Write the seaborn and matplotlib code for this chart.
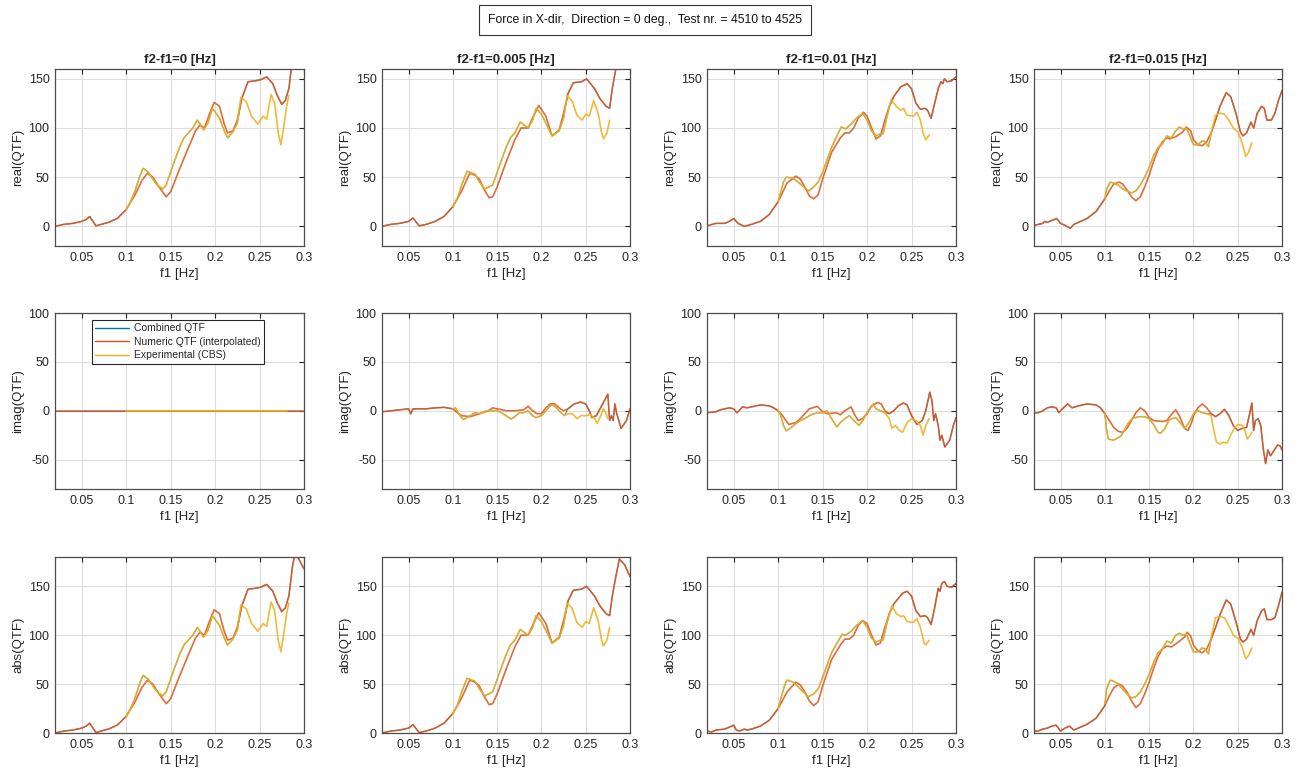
import numpy as np
import pandas as pd
import matplotlib
matplotlib.use("Agg")
import matplotlib.pyplot as plt
import seaborn as sns
from matplotlib.lines import Line2D

# panel columns: difference frequency f2-f1
diff_freqs = ["0", "0.005", "0.01", "0.015"]
xtick_vals = [0.05, 0.1, 0.15, 0.2, 0.25, 0.3]
xtick_text = ["0.05", "0.1", "0.15", "0.2", "0.25", "0.3"]

# range where the combined QTF follows the experimental curve
comb_lo = [0.1, 0.1, 0.102, 0.102]
comb_hi = [0.228, 0.226, 0.22, 0.217]

# ---------------- f2-f1 = 0 ----------------
f_num_re0 = [0.02, 0.03, 0.04, 0.05, 0.055, 0.059, 0.062, 0.066, 0.07, 0.08, 0.09, 0.1, 0.11, 0.118, 0.124,
             0.13, 0.137, 0.145, 0.15, 0.16, 0.17, 0.178, 0.183, 0.188, 0.194, 0.199, 0.205, 0.21, 0.214, 0.22,
             0.225, 0.23, 0.237, 0.245, 0.251, 0.258, 0.265, 0.27, 0.275, 0.279, 0.283, 0.287, 0.29, 0.3]
num_re0 = [0, 2, 3, 5, 7, 10, 6, 0.5, 1.5, 4, 8, 17, 32, 47, 54,
           50, 40, 30, 35, 58, 80, 97, 103, 100, 115, 126, 122, 105, 95, 97,
           108, 130, 147, 148, 149, 152, 145, 133, 124, 128, 140, 170, 185, 168]
f_exp_re0 = [0.1, 0.105, 0.11, 0.115, 0.119, 0.125, 0.13, 0.135, 0.141, 0.145, 0.15, 0.155, 0.16, 0.165,
             0.17, 0.175, 0.18, 0.184, 0.187, 0.192, 0.197, 0.205, 0.21, 0.214, 0.22, 0.225, 0.229, 0.235,
             0.241, 0.248, 0.254, 0.258, 0.263, 0.267, 0.271, 0.274, 0.277, 0.281, 0.283]
exp_re0 = [17, 25, 36, 50, 59, 55, 48, 42, 38, 42, 55, 68, 80, 90,
           95, 100, 108, 103, 98, 105, 120, 110, 98, 90, 96, 105, 131, 127,
           112, 104, 112, 109, 134, 125, 95, 83, 100, 125, 133]
f_num_im0 = [0.02, 0.1, 0.2, 0.3]
num_im0 = [0, 0, 0, 0]
f_exp_im0 = [0.1, 0.2, 0.281]
exp_im0 = [0, 0, 0]

# ---------------- f2-f1 = 0.005 ----------------
f_num_re1 = [0.02, 0.03, 0.04, 0.05, 0.055, 0.058, 0.062, 0.07, 0.08, 0.09, 0.1, 0.11, 0.119, 0.125, 0.13,
             0.135, 0.141, 0.145, 0.15, 0.16, 0.17, 0.177, 0.185, 0.19, 0.197, 0.205, 0.212, 0.22, 0.225,
             0.23, 0.236, 0.245, 0.251, 0.26, 0.266, 0.273, 0.277, 0.28, 0.284, 0.288, 0.294, 0.3]
num_re1 = [0, 2, 3, 5, 8.5, 5, 0.5, 2, 5, 10, 20, 36, 54, 52, 48,
           38, 29, 30, 40, 65, 88, 100, 100, 110, 123, 112, 92, 98, 115,
           135, 146, 147, 150, 140, 130, 122, 120, 140, 160, 178, 172, 160]
f_exp_re1 = [0.1, 0.105, 0.11, 0.116, 0.125, 0.13, 0.136, 0.145, 0.15, 0.16, 0.165, 0.17, 0.176, 0.185,
             0.19, 0.194, 0.2, 0.205, 0.212, 0.22, 0.225, 0.229, 0.235, 0.24, 0.246, 0.25, 0.254, 0.259,
             0.264, 0.268, 0.27, 0.274, 0.277]
exp_re1 = [20, 28, 42, 56, 53, 45, 38, 42, 55, 80, 90, 95, 106, 100,
           108, 120, 114, 105, 92, 97, 110, 133, 127, 113, 108, 114, 112, 128,
           115, 95, 89, 95, 108]
f_num_im1 = [0.02, 0.03, 0.04, 0.05, 0.0525, 0.055, 0.06, 0.07, 0.08, 0.09, 0.1, 0.105, 0.11, 0.12, 0.13,
             0.14, 0.145, 0.15, 0.16, 0.17, 0.18, 0.185, 0.19, 0.195, 0.2, 0.205, 0.21, 0.215, 0.22, 0.225,
             0.23, 0.237, 0.244, 0.25, 0.254, 0.257, 0.262, 0.268, 0.275, 0.277, 0.279, 0.281, 0.283, 0.285,
             0.29, 0.296, 0.3]
num_im1 = [-1, 0, 1, 2, -3, 2, 2, 2, 3, 3.5, 2, -2, -5, -6, -3,
           0, 3, 2, 0, 0, 1, 4.5, 0, -3, -3, 3, 7, 7, 3, 0,
           2, 7, 9, 7, 0, -7, -5, 5, 17, -10, -5, -10, 7, -3,
           -18, -10, 2]
f_exp_im1 = [0.1, 0.103, 0.108, 0.112, 0.118, 0.125, 0.13, 0.138, 0.145, 0.15, 0.155, 0.16, 0.166, 0.17,
             0.175, 0.18, 0.185, 0.19, 0.194, 0.2, 0.205, 0.21, 0.213, 0.218, 0.222, 0.226, 0.23, 0.235,
             0.24, 0.245, 0.25, 0.255, 0.26, 0.263, 0.267, 0.27, 0.273, 0.275]
exp_im1 = [2, 3, -5, -9, -6, -2, -3, 0, 0, 0, -2, -5, -8.5, -6,
           -2, -2, 0, -5, -7, -5, 0, 5, 6, 2, -2, -5, -3, -3,
           -8, -5, -5, -4, -8, -13, -5, 2, -3, -8]

# ---------------- f2-f1 = 0.01 ----------------
f_num_re2 = [0.02, 0.03, 0.035, 0.04, 0.045, 0.05, 0.055, 0.062, 0.07, 0.08, 0.09, 0.1, 0.11, 0.12, 0.125,
             0.13, 0.135, 0.14, 0.145, 0.15, 0.16, 0.17, 0.175, 0.18, 0.185, 0.19, 0.196, 0.2, 0.205, 0.21,
             0.215, 0.22, 0.225, 0.23, 0.238, 0.245, 0.25, 0.255, 0.26, 0.265, 0.268, 0.272, 0.276, 0.28,
             0.283, 0.285, 0.287, 0.29, 0.295, 0.3]
num_re2 = [0.5, 3, 3, 3, 5, 8, 3, 0, 2, 5, 12, 25, 44, 51, 48,
           40, 31, 28, 32, 48, 75, 90, 95, 95, 100, 110, 116, 112, 100, 89,
           92, 108, 122, 132, 142, 145, 140, 125, 119, 120, 118, 110, 125, 140,
           147, 145, 150, 147, 148, 152]
f_exp_re2 = [0.1, 0.103, 0.106, 0.109, 0.117, 0.125, 0.134, 0.14, 0.145, 0.15, 0.16, 0.165, 0.171, 0.176,
             0.182, 0.188, 0.195, 0.2, 0.205, 0.21, 0.215, 0.218, 0.222, 0.227, 0.233, 0.238, 0.241, 0.245,
             0.252, 0.256, 0.26, 0.263, 0.266, 0.27]
exp_re2 = [25, 35, 45, 50, 49, 43, 36, 40, 45, 55, 80, 90, 101, 99,
           104, 110, 115, 108, 97, 92, 94, 94, 110, 129, 122, 118, 120, 113,
           112, 116, 108, 95, 88, 93]
f_num_im2 = [0.02, 0.03, 0.035, 0.04, 0.045, 0.05, 0.0535, 0.057, 0.06, 0.065, 0.07, 0.08, 0.09, 0.095, 0.1,
             0.105, 0.112, 0.12, 0.125, 0.13, 0.135, 0.144, 0.15, 0.155, 0.165, 0.17, 0.175, 0.182, 0.186,
             0.19, 0.195, 0.2, 0.205, 0.212, 0.216, 0.22, 0.225, 0.23, 0.235, 0.241, 0.245, 0.25, 0.256,
             0.262, 0.266, 0.2705, 0.273, 0.275, 0.277, 0.28, 0.282, 0.284, 0.2875, 0.293, 0.297, 0.3]
num_im2 = [-2, -1, 1, 2, 3, 2, -2, 1, 4, 3, 4, 6, 5, 3, 0,
           -5, -14, -12, -8, -3, 2, 4.5, -1, -3, -2, -4, 0, 4, -4,
           -10, -8, -3, 5, 8.5, 7, 0, -3, 0, 5, 8, 6, -5, -14,
           -10, 0, 19, 10, -10, -3, -15, -30, -25, -37, -30, -15, -7]
f_exp_im2 = [0.1, 0.103, 0.106, 0.109, 0.115, 0.12, 0.125, 0.13, 0.135, 0.14, 0.145, 0.15, 0.155, 0.16,
             0.166, 0.17, 0.175, 0.18, 0.185, 0.191, 0.195, 0.2, 0.207, 0.21, 0.215, 0.22, 0.225, 0.228,
             0.232, 0.236, 0.24, 0.245, 0.25, 0.255, 0.26, 0.263, 0.266, 0.27]
exp_im2 = [0, -5, -15, -20.5, -17, -13, -10, -8, -5, -3, -2, -2, 0, -8,
           -16.5, -12, -8, -5, -10, -15, -10, -2, 7, 2, 0, -2, -8, -18,
           -15, -20, -22, -12, -8, -10, -15, -25, -15, -8]
f_num_ab2 = [0.02, 0.025, 0.03, 0.04, 0.045, 0.05, 0.053, 0.057, 0.062, 0.065, 0.07, 0.08, 0.09, 0.1, 0.11,
             0.12, 0.125, 0.13, 0.135, 0.14, 0.145, 0.15, 0.16, 0.17, 0.175, 0.18, 0.185, 0.19, 0.195, 0.2,
             0.205, 0.21, 0.215, 0.22, 0.225, 0.23, 0.24, 0.245, 0.25, 0.255, 0.26, 0.265, 0.268, 0.272,
             0.276, 0.28, 0.282, 0.284, 0.287, 0.29, 0.295, 0.3]
num_ab2 = [2, 1, 3, 4, 6, 8, 3, 2, 4, 3, 4, 7, 13, 25, 42,
           52, 49, 42, 33, 28, 32, 48, 75, 90, 96, 96, 100, 110, 115, 112,
           100, 90, 92, 108, 122, 132, 143, 145, 140, 125, 119, 120, 118, 111,
           128, 148, 145, 153, 155, 150, 149, 153]
f_exp_ab2 = [0.1, 0.103, 0.107, 0.11, 0.117, 0.125, 0.134, 0.14, 0.145, 0.15, 0.16, 0.165, 0.172, 0.176,
             0.182, 0.188, 0.195, 0.2, 0.205, 0.21, 0.215, 0.218, 0.222, 0.228, 0.233, 0.238, 0.241, 0.245,
             0.252, 0.256, 0.26, 0.264, 0.266, 0.27]
exp_ab2 = [25, 35, 48, 54, 52, 45, 37, 40, 45, 57, 82, 90, 101, 100,
           104, 110, 115, 108, 97, 93, 95, 95, 112, 130, 122, 119, 120, 114,
           113, 117, 108, 92, 90, 95]

# ---------------- f2-f1 = 0.015 ----------------
f_num_re3 = [0.02, 0.03, 0.032, 0.035, 0.04, 0.0455, 0.05, 0.055, 0.061, 0.065, 0.07, 0.08, 0.09, 0.1, 0.105,
             0.11, 0.116, 0.12, 0.125, 0.13, 0.135, 0.14, 0.145, 0.15, 0.155, 0.16, 0.165, 0.17, 0.173, 0.18,
             0.188, 0.192, 0.197, 0.2, 0.205, 0.21, 0.215, 0.22, 0.225, 0.23, 0.237, 0.242, 0.248, 0.253,
             0.256, 0.26, 0.265, 0.268, 0.272, 0.277, 0.28, 0.283, 0.288, 0.292, 0.296, 0.3]
num_re3 = [1, 3, 5, 4, 6, 8, 3, 1, -2, 2, 4, 8, 15, 28, 36,
           43, 45, 43, 37, 30, 26, 30, 40, 52, 66, 78, 86, 90, 89, 91,
           96, 101, 97, 88, 83, 82, 86, 95, 108, 122, 136, 132, 115, 96,
           92, 95, 106, 100, 115, 122, 120, 108, 108, 115, 128, 138]
f_exp_re3 = [0.1, 0.102, 0.106, 0.11, 0.115, 0.12, 0.125, 0.13, 0.135, 0.14, 0.145, 0.15, 0.155, 0.16,
             0.165, 0.17, 0.175, 0.18, 0.184, 0.188, 0.192, 0.196, 0.2, 0.205, 0.21, 0.213, 0.217, 0.22,
             0.225, 0.23, 0.235, 0.24, 0.245, 0.25, 0.255, 0.259, 0.262, 0.266]
exp_re3 = [28, 38, 45, 44, 42, 38, 36, 34, 36, 42, 50, 60, 72, 80,
           84, 92, 90, 97, 101, 99, 100, 92, 83, 83, 87, 86, 81, 95,
           113, 115, 114, 108, 100, 96, 85, 71, 75, 85]
f_num_im3 = [0.02, 0.025, 0.03, 0.035, 0.04, 0.045, 0.048, 0.052, 0.058, 0.063, 0.07, 0.08, 0.09, 0.095, 0.1,
             0.105, 0.11, 0.115, 0.12, 0.125, 0.13, 0.135, 0.14, 0.145, 0.15, 0.155, 0.165, 0.17, 0.175,
             0.18, 0.184, 0.19, 0.194, 0.198, 0.2, 0.205, 0.21, 0.215, 0.22, 0.225, 0.23, 0.235, 0.24,
             0.245, 0.25, 0.255, 0.26, 0.263, 0.266, 0.268, 0.27, 0.273, 0.276, 0.279, 0.2815, 0.284,
             0.287, 0.29, 0.295, 0.298, 0.3]
num_im3 = [-2, -2, 0, 3, 4, 3, -2, 2, 7, 3, 5, 7, 6, 3, -3,
           -10, -17, -21, -22, -18, -10, -2, 3, 0, -7, -10, -11, -10, -4,
           1, -5, -18, -20, -12, -5, 3, 7, 3, -3, -6, -3, 1.5, -5,
           -15, -20, -18, -17, -5, 8, -20, -10, -8, -15, -40, -54, -40,
           -46, -42, -35, -36, -40]
f_exp_im3 = [0.1, 0.102, 0.104, 0.11, 0.118, 0.122, 0.126, 0.131, 0.138, 0.145, 0.15, 0.155, 0.16, 0.163,
             0.168, 0.172, 0.176, 0.18, 0.185, 0.19, 0.195, 0.2, 0.205, 0.21, 0.215, 0.22, 0.223, 0.226,
             0.23, 0.234, 0.238, 0.242, 0.246, 0.25, 0.255, 0.258, 0.261, 0.264, 0.266]
exp_im3 = [-3, -20, -29, -30, -26, -20, -13, -8, -6, -6, -8, -14, -22, -23,
           -18, -10, -8, -7, -12, -18, -12, -3, 0, -2, -3, -5, -20, -32,
           -34, -32, -33, -25, -18, -14, -15, -20, -29, -25, -22]
f_num_ab3 = [0.02, 0.025, 0.03, 0.035, 0.04, 0.045, 0.05, 0.055, 0.06, 0.065, 0.07, 0.08, 0.09, 0.1, 0.105,
             0.11, 0.116, 0.12, 0.125, 0.13, 0.135, 0.14, 0.145, 0.15, 0.155, 0.16, 0.165, 0.17, 0.175,
             0.18, 0.19, 0.193, 0.197, 0.2, 0.205, 0.21, 0.215, 0.22, 0.225, 0.23, 0.237, 0.242, 0.248,
             0.253, 0.256, 0.26, 0.265, 0.268, 0.272, 0.277, 0.28, 0.283, 0.288, 0.292, 0.296, 0.3]
num_ab3 = [2, 2, 4, 5, 7, 8, 2, 5, 7, 3, 5, 9, 15, 28, 38,
           46, 50, 48, 42, 33, 26, 30, 40, 52, 66, 78, 86, 89, 88,
           91, 98, 103, 99, 90, 84, 82, 86, 96, 108, 121, 136, 132, 114,
           96, 93, 96, 106, 100, 115, 125, 127, 116, 116, 118, 130, 144]
f_exp_ab3 = [0.1, 0.102, 0.106, 0.11, 0.115, 0.12, 0.125, 0.13, 0.135, 0.14, 0.145, 0.15, 0.155, 0.16,
             0.165, 0.17, 0.175, 0.18, 0.184, 0.188, 0.192, 0.196, 0.2, 0.205, 0.21, 0.213, 0.217, 0.22,
             0.225, 0.23, 0.235, 0.24, 0.245, 0.25, 0.255, 0.259, 0.262, 0.266]
exp_ab3 = [30, 45, 54, 53, 50, 45, 40, 36, 37, 42, 50, 60, 72, 82,
           86, 94, 92, 100, 102, 100, 101, 92, 83, 83, 87, 86, 81, 98,
           118, 119, 118, 110, 100, 97, 88, 76, 79, 87]

# panel layout: rows = real / imag / abs, columns = f2-f1
rows = [
    ("real(QTF)", (-20, 160), [0, 50, 100, 150],
     [(f_num_re0, num_re0, f_exp_re0, exp_re0), (f_num_re1, num_re1, f_exp_re1, exp_re1),
      (f_num_re2, num_re2, f_exp_re2, exp_re2), (f_num_re3, num_re3, f_exp_re3, exp_re3)]),
    ("imag(QTF)", (-80, 100), [-50, 0, 50, 100],
     [(f_num_im0, num_im0, f_exp_im0, exp_im0), (f_num_im1, num_im1, f_exp_im1, exp_im1),
      (f_num_im2, num_im2, f_exp_im2, exp_im2), (f_num_im3, num_im3, f_exp_im3, exp_im3)]),
    ("abs(QTF)", (0, 180), [0, 50, 100, 150],
     [(f_num_re0, num_re0, f_exp_re0, exp_re0), (f_num_re1, num_re1, f_exp_re1, exp_re1),
      (f_num_ab2, num_ab2, f_exp_ab2, exp_ab2), (f_num_ab3, num_ab3, f_exp_ab3, exp_ab3)]),
]

c_comb = "#0072BD"
c_num = "#D95319"
c_exp = "#EDB120"


def combined(fn, vn, fe, ve, lo, hi):
    # numeric outside [lo, hi], experimental inside
    num = pd.DataFrame({"f": fn, "v": vn})
    exp = pd.DataFrame({"f": fe, "v": ve})
    parts = [num[num.f < lo], exp[(exp.f >= lo) & (exp.f <= hi)], num[num.f > hi]]
    return pd.concat(parts, ignore_index=True)


sns.set_theme(style="whitegrid")
plt.rcParams["font.family"] = ["Liberation Sans", "DejaVu Sans"]
plt.rcParams["axes.unicode_minus"] = False

W, H = 1303, 769
fig = plt.figure(figsize=(W / 100, H / 100), dpi=100)
col_left = [55, 382, 707, 1034]
col_w = [249, 248, 249, 248]
row_top = [69, 313, 557]
row_h = [177, 176, 176]

for r, (ylab, ylim, yticks, series) in enumerate(rows):
    for c in range(4):
        ax = fig.add_axes([col_left[c] / W, 1 - (row_top[r] + row_h[r]) / H,
                           col_w[c] / W, row_h[r] / H])
        fn, vn, fe, ve = series[c]
        comb = combined(fn, vn, fe, ve, comb_lo[c], comb_hi[c])
        sns.lineplot(x=comb["f"], y=comb["v"], ax=ax, color=c_comb, lw=0.8, alpha=0.75,
                     sort=False, legend=False)
        sns.lineplot(x=fn, y=vn, ax=ax, color=c_num, lw=1.2, alpha=0.85, sort=False, legend=False)
        sns.lineplot(x=fe, y=ve, ax=ax, color=c_exp, lw=1.2, alpha=0.88, sort=False, legend=False)

        ax.set_xlim(0.02, 0.3)
        ax.set_ylim(*ylim)
        ax.set_xticks(xtick_vals)
        ax.set_xticklabels(xtick_text)
        ax.set_yticks(yticks)
        ax.grid(True, color="#dedede", lw=0.8)
        ax.tick_params(direction="in", length=3.5, width=0.8, top=True, right=True,
                       labelsize=9, colors="#262626", pad=4)
        for sp in ax.spines.values():
            sp.set_color("#4d4d4d")
            sp.set_linewidth(0.9)
        ax.set_xlabel("f1 [Hz]", fontsize=9.5, color="#262626", labelpad=3)
        ax.set_ylabel(ylab, fontsize=9.5, color="#262626", labelpad=3)
        if r == 0:
            ax.set_title("f2-f1=" + diff_freqs[c] + " [Hz]", fontsize=9.5, fontweight="bold", pad=4)
        if r == 1 and c == 0:
            handles = [Line2D([], [], color=c_comb, lw=1.0),
                       Line2D([], [], color=c_num, lw=1.0),
                       Line2D([], [], color=c_exp, lw=1.0)]
            leg = ax.legend(handles, ["Combined QTF", "Numeric QTF (interpolated)", "Experimental (CBS)"],
                            loc="upper left", bbox_to_anchor=(0.15, 0.96), fontsize=7.5,
                            fancybox=False, framealpha=1, edgecolor="#262626", handlelength=3.2,
                            borderpad=0.3, labelspacing=0.35, handletextpad=0.5, borderaxespad=0)
            leg.get_frame().set_linewidth(0.8)

fig.text(645 / W, 1 - 20 / H, "Force in X-dir,  Direction = 0 deg.,  Test nr. = 4510 to 4525",
         ha="center", va="center", fontsize=8.8, color="#111111",
         bbox=dict(boxstyle="square,pad=0.7", fc="white", ec="#333333", lw=0.8))

fig.savefig("out.png", dpi=100)
